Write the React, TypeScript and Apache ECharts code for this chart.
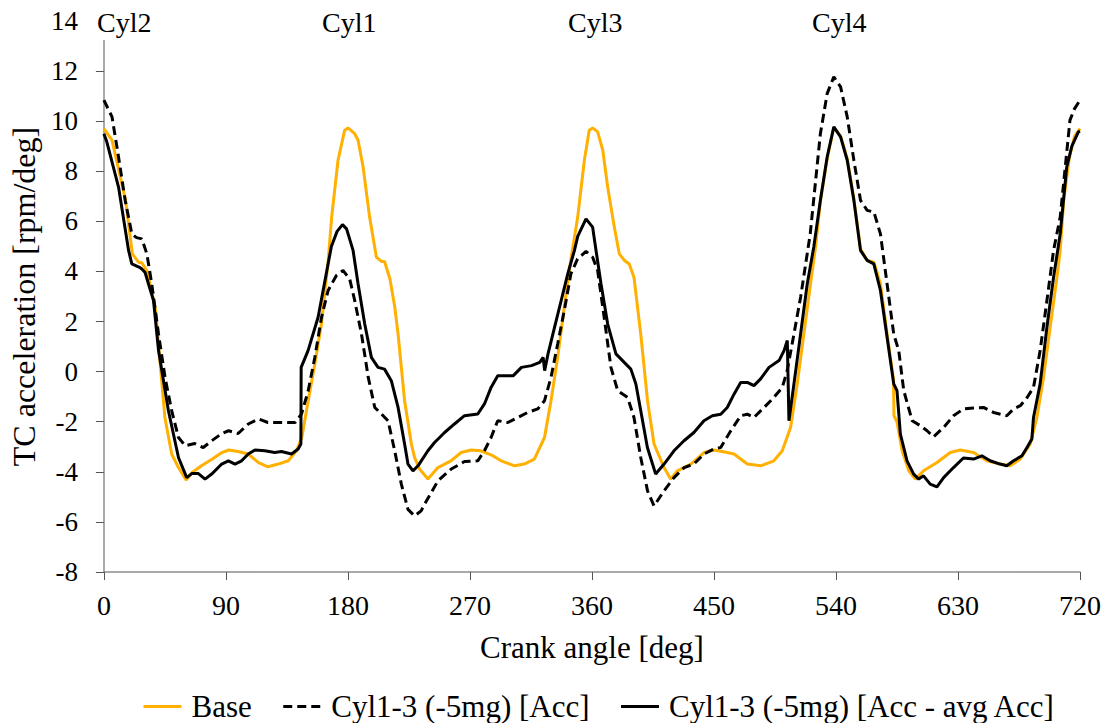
import React, { useEffect, useRef } from "react";
import * as echarts from "echarts";

// Crank angle [deg] sample positions and values
const baseAngles = [0, 6, 16, 21, 25.5, 28, 32, 38, 45, 50, 55, 60.6, 65, 72, 80, 87, 92, 99, 106.5, 114, 121, 128.6, 136, 142, 146, 150.7, 155.6, 160.5, 165.4, 168, 172.7, 177.6, 180, 185, 187.5, 191.2, 196, 201, 204.7, 207, 211, 214.5, 217, 221.8, 226.8, 229.2, 233, 239, 246.4, 256, 263.5, 271, 278, 285.6, 293, 303, 310, 317.5, 325, 329.8, 334.7, 339.6, 344.5, 349.5, 354.4, 358, 360.5, 364.2, 368, 371.6, 376.5, 380.2, 383.8, 387.5, 391, 396, 401, 405.8, 413.2, 418, 423, 433, 442.7, 450, 459.8, 464.8, 474.6, 484.4, 494.2, 500.4, 506.5, 511.4, 516.3, 521.2, 525, 528.5, 533.5, 538.4, 543.4, 548.3, 553.2, 558.1, 563, 568, 572.8, 577.7, 582.4, 582.8, 585, 588.8, 593.7, 598.6, 604.6, 614.5, 624.3, 631.7, 641.5, 651.3, 661, 668.4, 676, 683.3, 688.2, 693.1, 698, 703, 705.4, 708, 712, 716, 720];
const baseValues = [9.7, 9.24, 6.84, 4.7, 4.37, 4.35, 4.0, 2.5, -1.83, -3.29, -3.83, -4.33, -4.03, -3.76, -3.49, -3.23, -3.13, -3.19, -3.29, -3.63, -3.8, -3.69, -3.56, -3.16, -2.63, -1.16, 0.31, 1.91, 4.4, 6.17, 8.44, 9.64, 9.73, 9.5, 9.24, 8.17, 6.17, 4.57, 4.4, 4.4, 3.7, 2.6, 1.5, -1.16, -2.89, -3.43, -3.9, -4.29, -3.83, -3.56, -3.23, -3.13, -3.16, -3.32, -3.56, -3.76, -3.69, -3.49, -2.63, -1.16, 0.57, 2.57, 4.5, 6.17, 8.44, 9.64, 9.73, 9.57, 8.84, 7.37, 5.77, 4.7, 4.45, 4.3, 3.77, 1.5, -1.16, -2.89, -3.83, -4.29, -3.96, -3.69, -3.23, -3.13, -3.23, -3.29, -3.69, -3.76, -3.56, -3.16, -2.23, -0.49, 1.5, 3.5, 5.0, 6.8, 8.5, 9.75, 9.4, 8.5, 6.9, 4.9, 4.44, 4.37, 3.5, 1.5, -0.3, -1.76, -2.0, -3.16, -3.96, -4.29, -3.96, -3.63, -3.23, -3.13, -3.23, -3.56, -3.69, -3.76, -3.49, -2.89, -1.83, -0.23, 1.77, 3.77, 4.84, 6.84, 8.5, 9.4, 9.7];

const accAngles = [0, 6, 10.8, 15.7, 20.6, 24, 28, 31.7, 35.3, 40.3, 45.1, 50, 55, 60, 67, 73.3, 79.5, 87, 92, 99, 106.5, 114, 121, 141, 145.8, 150.7, 155.6, 160.5, 165.4, 171.5, 176.4, 181.3, 185, 190, 195, 199.8, 204.7, 209.6, 214.5, 219.4, 224.3, 229.2, 234, 236.6, 246.4, 256.2, 266, 275.8, 280.7, 285.6, 290.5, 298, 305.3, 312.6, 320, 325, 329.8, 334.7, 339.6, 344.5, 349.4, 355.6, 360.5, 364.2, 369, 374, 379, 386.3, 391, 396, 401, 405.8, 413.2, 420.5, 428, 435.2, 442.6, 450, 455, 462.4, 469.8, 474.6, 479.5, 487, 494.2, 500.4, 504, 509, 514, 521, 528.5, 533.5, 538.4, 543.4, 548.3, 553.2, 558.1, 563, 568, 572.8, 577.7, 582.6, 586.3, 590, 596.2, 602.3, 607.2, 612, 619.4, 626.7, 634, 641.5, 648.8, 656.2, 666, 671, 676, 681, 685.7, 690.6, 695.6, 700.5, 705.4, 712.6, 716, 720];
const accValues = [10.84, 10.17, 8.57, 6.84, 5.5, 5.35, 5.3, 4.7, 3.5, 1.5, -0.23, -1.56, -2.63, -2.96, -2.87, -3.03, -2.76, -2.47, -2.36, -2.47, -2.09, -1.89, -2.03, -2.03, -1.69, -0.76, 0.57, 2.17, 3.24, 3.84, 4.04, 3.7, 2.84, 1.5, -0.23, -1.43, -1.69, -1.96, -3.16, -4.49, -5.5, -5.76, -5.56, -5.29, -4.36, -3.89, -3.59, -3.56, -3.16, -2.63, -1.96, -2.03, -1.83, -1.63, -1.49, -1.16, -0.23, 1.1, 2.44, 3.91, 4.5, 4.8, 4.57, 4.04, 2.17, 0.17, -0.76, -1.03, -1.83, -3.43, -4.76, -5.36, -4.76, -4.23, -3.83, -3.69, -3.29, -3.09, -3.03, -2.36, -1.76, -1.7, -1.83, -1.43, -1.03, -0.63, 0.04, 1.5, 3.0, 5.5, 9.5, 11.1, 11.77, 11.37, 10.17, 8.44, 6.84, 6.44, 6.37, 5.5, 3.5, 1.5, 0.84, -0.76, -1.96, -2.16, -2.36, -2.6, -2.23, -1.76, -1.49, -1.45, -1.43, -1.63, -1.76, -1.49, -1.36, -1.03, -0.63, 0.84, 2.84, 4.84, 6.17, 10.04, 10.5, 10.84];

const accAvgAngles = [0, 2, 10.8, 18.2, 20.6, 26.7, 28, 30.4, 32.9, 36.6, 40.3, 47.6, 55, 61.1, 64.8, 69.7, 74.6, 79.5, 86.9, 91.8, 96.7, 101.6, 106.5, 111.4, 118.7, 126, 130.9, 138.4, 143.3, 145.3, 145.5, 150.6, 158, 167.8, 172, 176, 179, 183.8, 187.5, 192.4, 197.3, 202.2, 207, 212, 217, 221.8, 224.3, 228, 231.7, 239, 243.9, 251.3, 258.6, 266, 275.8, 280.7, 285.6, 290.5, 302, 308, 315.4, 321.5, 324, 325.1, 327.6, 332.4, 337.3, 342.2, 347.1, 349.5, 355.6, 360.5, 363, 366.7, 371.6, 377.7, 383.8, 388.7, 392.4, 396, 400.9, 407, 413.2, 420.5, 427.9, 435.2, 442.6, 448.8, 455, 459.8, 464.8, 469.7, 474.6, 479.5, 484.4, 490.6, 498, 501.7, 504.1, 505.3, 509, 513.9, 518.8, 523.7, 528.5, 533.5, 538.4, 543.4, 548.3, 553.2, 558.1, 563, 567.9, 572.8, 577.7, 582.6, 585, 587.5, 592.4, 597.3, 601, 604.6, 609.5, 614.5, 619.4, 626.7, 634, 641.5, 647.6, 653.7, 661, 666, 671, 677.2, 680.9, 684.5, 685.7, 690.6, 695.6, 700.5, 705.4, 710.2, 714, 718.8, 720];
const accAvgValues = [9.5, 9.2, 7.37, 4.84, 4.3, 4.15, 4.1, 3.96, 3.5, 2.84, 0.84, -1.56, -3.43, -4.23, -4.07, -4.07, -4.29, -4.09, -3.69, -3.56, -3.69, -3.56, -3.29, -3.13, -3.16, -3.23, -3.19, -3.29, -3.09, -2.89, 0.17, 0.84, 2.17, 5.0, 5.6, 5.87, 5.7, 4.84, 3.5, 1.9, 0.57, 0.17, 0.1, -0.36, -1.43, -2.89, -3.69, -3.96, -3.76, -3.16, -2.83, -2.43, -2.09, -1.76, -1.69, -1.29, -0.63, -0.16, -0.16, 0.17, 0.24, 0.37, 0.57, 0.04, 0.71, 1.77, 2.84, 3.91, 4.84, 5.4, 6.1, 5.77, 4.84, 3.5, 1.9, 0.71, 0.37, 0.1, -0.49, -1.56, -3.03, -4.09, -3.69, -3.16, -2.76, -2.43, -1.96, -1.76, -1.7, -1.43, -0.9, -0.43, -0.43, -0.56, -0.29, 0.17, 0.44, 0.84, 1.24, -1.96, -0.49, 1.5, 3.5, 5.0, 6.84, 8.57, 9.77, 9.37, 8.44, 6.84, 4.84, 4.44, 4.3, 3.24, 1.37, -0.49, -0.76, -2.49, -3.56, -4.09, -4.29, -4.16, -4.49, -4.6, -4.23, -3.83, -3.45, -3.49, -3.36, -3.56, -3.69, -3.76, -3.56, -3.36, -3.03, -2.69, -1.83, -0.49, 1.77, 3.77, 5.5, 8.17, 9.0, 9.57, 9.6];

const seriesNames = ["Base", "Cyl1-3 (-5mg) [Acc]", "Cyl1-3 (-5mg) [Acc - avg Acc]"];
const cylLabels = ["Cyl2", "Cyl1", "Cyl3", "Cyl4"];
const xTicks = [0, 90, 180, 270, 360, 450, 540, 630, 720];

const FONT = "Liberation Serif";

function zip(a: number[], b: number[]) {
  return a.map((x, i) => [x, b[i]]);
}

export default function App() {
  const ref = useRef<HTMLDivElement>(null);
  useEffect(() => {
    if (!ref.current) return;
    const chart = echarts.init(ref.current, null, { renderer: "svg" });
    const cylX = [95, 320, 566, 810];
    chart.setOption({
      animation: false,
      backgroundColor: "#fff",
      textStyle: { fontFamily: FONT, color: "#000" },
      grid: { left: 102, right: 27, top: 21, bottom: 151, containLabel: false },
      xAxis: {
        type: "value",
        min: xTicks[0],
        max: xTicks[xTicks.length - 1],
        interval: 90,
        name: "Crank angle [deg]",
        nameLocation: "middle",
        nameGap: 60,
        nameTextStyle: { fontSize: 31, fontFamily: FONT, color: "#000" },
        axisLine: { show: true, onZero: false, lineStyle: { color: "#8c8c8c", width: 1.5 } },
        axisTick: { show: true, length: 8, lineStyle: { color: "#555" } },
        axisLabel: { fontSize: 28, fontFamily: FONT, color: "#000", margin: 19 },
        splitLine: { show: false },
      },
      yAxis: {
        type: "value",
        min: -8,
        max: 14,
        interval: 2,
        name: "TC acceleration [rpm/deg]",
        nameLocation: "middle",
        nameGap: 60,
        nameRotate: 90,
        nameTextStyle: { fontSize: 32, fontFamily: FONT, color: "#000" },
        axisLine: { show: true, lineStyle: { color: "#8c8c8c", width: 1.5 } },
        axisTick: { show: true, length: 8, lineStyle: { color: "#555" } },
        axisLabel: { fontSize: 27, fontFamily: FONT, color: "#000", margin: 26 },
        splitLine: { show: false },
      },
      legend: {
        top: 686,
        left: 137,
        itemWidth: 38,
        itemHeight: 14,
        itemGap: 30,
        itemStyle: { opacity: 0 },
        lineStyle: { width: 3 },
        textStyle: { fontSize: 31, fontFamily: FONT, color: "#000", padding: [0, 0, 0, 5] },
        data: seriesNames,
      },
      graphic: cylLabels.map((t, i) => ({
        type: "text",
        left: cylX[i],
        top: 6,
        z: 100,
        style: {
          text: t,
          fontSize: 28,
          fontFamily: FONT,
          fill: "#000",
          backgroundColor: "#fff",
          padding: [2, 2, 4, 2],
        },
      })),
      series: [
        {
          name: seriesNames[0],
          type: "line",
          data: zip(baseAngles, baseValues),
          showSymbol: false,
          symbol: "none",
          lineStyle: { color: "#FFB000", width: 3 },
          itemStyle: { color: "#FFB000" },
          z: 1,
        },
        {
          name: seriesNames[1],
          type: "line",
          data: zip(accAngles, accValues),
          showSymbol: false,
          symbol: "none",
          lineStyle: { color: "#000", width: 3, type: [9, 5] },
          itemStyle: { color: "#000" },
          z: 2,
        },
        {
          name: seriesNames[2],
          type: "line",
          data: zip(accAvgAngles, accAvgValues),
          showSymbol: false,
          symbol: "none",
          lineStyle: { color: "#000", width: 3 },
          itemStyle: { color: "#000" },
          z: 3,
        },
      ],
    });
    return () => chart.dispose();
  }, []);
  return <div ref={ref} style={{ width: 1107, height: 723, position: "absolute", left: 0, top: 0 }} />;
}
